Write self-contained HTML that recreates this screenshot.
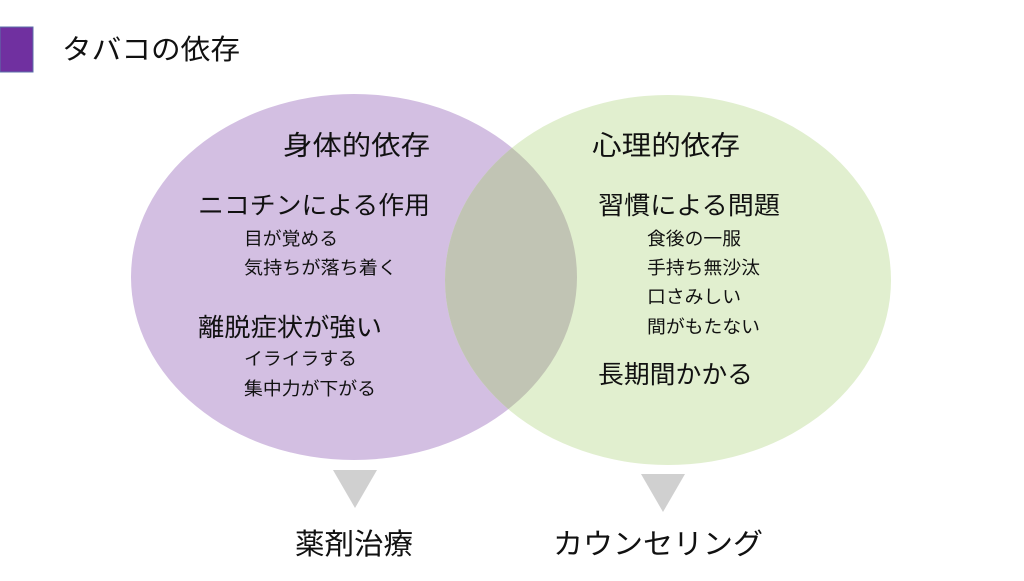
<!DOCTYPE html>
<html><head><meta charset="utf-8"><style>
body{margin:0;width:1024px;height:576px;background:#fff;overflow:hidden}
svg text{font-family:"Liberation Sans","Noto Sans CJK JP",sans-serif;fill:#111}
</style></head><body>
<svg width="1024" height="576" viewBox="0 0 1024 576">
<defs><clipPath id="c"><ellipse cx="354" cy="277" rx="223" ry="183"/></clipPath></defs>
<rect x="0" y="27" width="33" height="45" fill="#7030a0" stroke="#5b6fa8" stroke-width="1"/>
<text x="62" y="59" font-size="28" textLength="178" lengthAdjust="spacingAndGlyphs">タバコの依存</text>
<ellipse cx="354" cy="277" rx="223" ry="183" fill="#d3bfe2"/>
<ellipse cx="668" cy="280" rx="223" ry="185" fill="#e1efcf"/>
<ellipse cx="668" cy="280" rx="223" ry="185" fill="#c1c4b4" clip-path="url(#c)"/>
<polygon points="333,470 377,470 355,508" fill="#d0d0d0"/>
<polygon points="641,474 685,474 663,512" fill="#d0d0d0"/>
<g font-size="27" lengthAdjust="spacingAndGlyphs">
<text x="283" y="155" textLength="147" lengthAdjust="spacingAndGlyphs">身体的依存</text>
<text x="592" y="155" textLength="148" lengthAdjust="spacingAndGlyphs">心理的依存</text>
</g>
<g font-size="25">
<text x="198" y="214" textLength="232" lengthAdjust="spacingAndGlyphs">ニコチンによる作用</text>
<text x="198" y="336" textLength="184" lengthAdjust="spacingAndGlyphs">離脱症状が強い</text>
<text x="598" y="214" textLength="182" lengthAdjust="spacingAndGlyphs">習慣による問題</text>
<text x="598" y="383" textLength="155" lengthAdjust="spacingAndGlyphs">長期間かかる</text>
</g>
<g font-size="18">
<text x="244" y="245" textLength="94" lengthAdjust="spacingAndGlyphs">目が覚める</text>
<text x="244" y="274" textLength="153" lengthAdjust="spacingAndGlyphs">気持ちが落ち着く</text>
<text x="244" y="365" textLength="113" lengthAdjust="spacingAndGlyphs">イライラする</text>
<text x="244" y="395" textLength="132" lengthAdjust="spacingAndGlyphs">集中力が下がる</text>
<text x="647" y="245" textLength="94" lengthAdjust="spacingAndGlyphs">食後の一服</text>
<text x="647" y="274" textLength="113" lengthAdjust="spacingAndGlyphs">手持ち無沙汰</text>
<text x="647" y="303" textLength="94" lengthAdjust="spacingAndGlyphs">口さみしい</text>
<text x="647" y="333" textLength="113" lengthAdjust="spacingAndGlyphs">間がもたない</text>
</g>
<g font-size="29">
<text x="295" y="554" textLength="118" lengthAdjust="spacingAndGlyphs">薬剤治療</text>
<text x="553" y="554" textLength="210" lengthAdjust="spacingAndGlyphs">カウンセリング</text>
</g>
</svg>
</body></html>
